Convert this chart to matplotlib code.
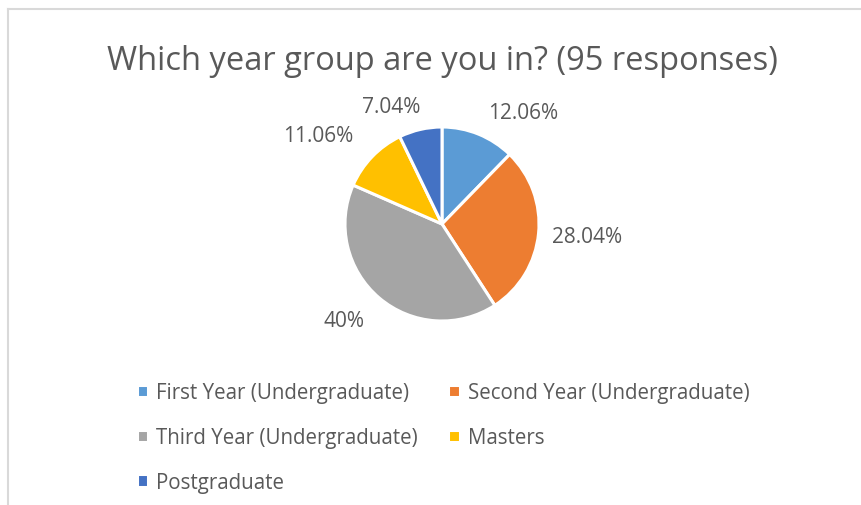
import numpy as np
import matplotlib.pyplot as plt
from matplotlib.lines import Line2D

plt.rcParams['font.family'] = ['Open Sans', 'DejaVu Sans']

groups = ['First Year (Undergraduate)', 'Second Year (Undergraduate)',
          'Third Year (Undergraduate)', 'Masters', 'Postgraduate']
shares = [12.06, 28.04, 40, 11.06, 7.04]
share_labels = ['12.06%', '28.04%', '40%', '11.06%', '7.04%']
colors = ['#5B9BD5', '#ED7D31', '#A5A5A5', '#FFC000', '#4472C4']

# label placement: distance from centre (in radii) and turn from the wedge middle (deg)
label_dist = [1.42, 1.50, 1.42, 1.57, 1.32]
label_turn = [-13.8, 0.5, -5.0, 8.5, 10.5]

text_col = '#595959'
W, H = 862, 506
fig = plt.figure(figsize=(W / 100, H / 100), dpi=100)

# chart border (only top and left edges show)
fig.add_artist(Line2D([8 / W, 1], [1 - 10 / H, 1 - 10 / H], color='#D9D9D9', lw=1.5))
fig.add_artist(Line2D([8 / W, 8 / W], [0, 1 - 10 / H], color='#D9D9D9', lw=1.5))

fig.text(442 / W, 1 - 62 / H, 'Which year group are you in? (95 responses)',
         ha='center', va='center', fontsize=23.5, color=text_col)

# pie centre at (442, 225) px, radius 97 px
cx, cy, r = 442, 225, 97
k = 2.0
ax = fig.add_axes([(cx - r * k) / W, (H - cy - r * k) / H, 2 * r * k / W, 2 * r * k / H])

wedges, _ = ax.pie(shares, colors=colors, startangle=90, counterclock=False,
                   radius=1, normalize=True,
                   wedgeprops=dict(edgecolor='white', linewidth=2.2))
ax.set_xlim(-k, k)
ax.set_ylim(-k, k)
ax.axis('off')

for w, lab, d, t in zip(wedges, share_labels, label_dist, label_turn):
    ang = np.deg2rad((w.theta1 + w.theta2) / 2 + t)
    ax.text(d * np.cos(ang), d * np.sin(ang), lab, ha='center', va='center',
            fontsize=15, color=text_col)

# legend reads row by row: matplotlib fills columns, so reorder
order = [0, 2, 4, 1, 3]
leg = fig.legend([wedges[i] for i in order], [groups[i] for i in order],
                 ncol=2, frameon=False,
                 loc='upper left', bbox_to_anchor=(118 / W, 1 - 365 / H),
                 fontsize=14.8, labelcolor=text_col,
                 handlelength=0.55, handleheight=0.55, handletextpad=0.4,
                 columnspacing=1.5, labelspacing=1.15)

fig.savefig('out.png', dpi=100)
